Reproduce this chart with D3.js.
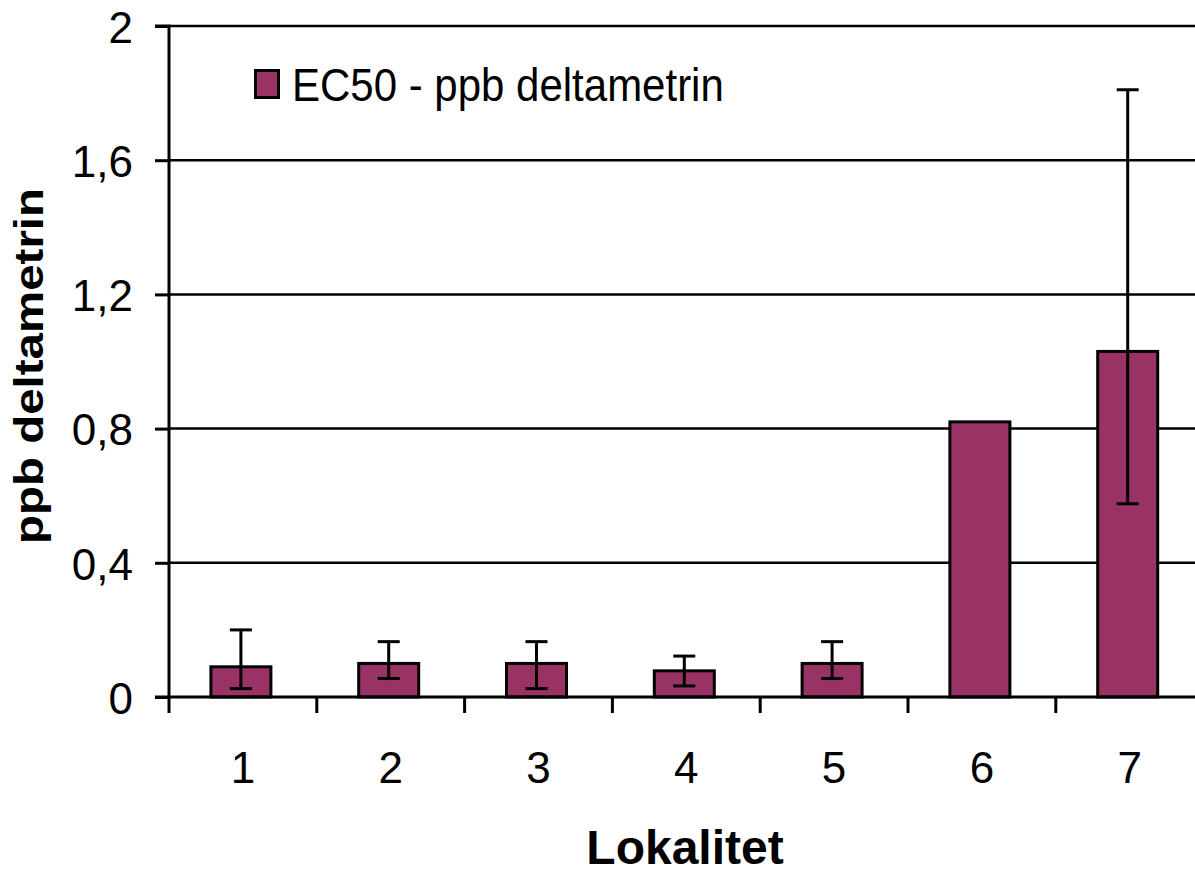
<!DOCTYPE html>
<html><head><meta charset="utf-8">
<script src="https://cdn.jsdelivr.net/npm/d3@7"></script>
<style>body{margin:0;background:#fff}svg{display:block}text{font-family:"Liberation Sans",Arial,sans-serif;fill:#000}</style>
</head><body><svg id="c" width="1195" height="875"></svg>
<script>
const categories = ["1","2","3","4","5","6","7"];
const ec50 = [0.09, 0.10, 0.10, 0.078, 0.10, 0.82, 1.03];
const errUpper = [0.20, 0.165, 0.165, 0.122, 0.165, null, 1.81];
const errLower = [0.025, 0.055, 0.025, 0.033, 0.055, null, 0.576];
const yTicks = [0, 0.4, 0.8, 1.2, 1.6, 2];
const yTickLabels = ["0", "0,4", "0,8", "1,2", "1,6", "2"];
const seriesName = "EC50 - ppb deltametrin";
const xTitle = "Lokalitet";
const yTitle = "ppb deltametrin";

const svg = d3.select("#c");
const plotLeft = 169, catW = 147.8, plotTop = 26, plotBottom = 697;
const x = d3.scaleBand().domain(categories).range([plotLeft, plotLeft + catW * categories.length]).padding(0);
const y = d3.scaleLinear().domain([0, 2]).range([plotBottom, plotTop]);
const barW = 60;
const color = "#993366";
const FONT = '"Liberation Sans",Arial,sans-serif';

// gridlines
svg.append("g").selectAll("line").data(yTicks.filter(d => d > 0)).join("line")
  .attr("x1", plotLeft).attr("x2", 1195).attr("y1", d => y(d)).attr("y2", d => y(d))
  .attr("stroke", "#000").attr("stroke-width", 2.5);

// bars
svg.append("g").selectAll("rect").data(categories).join("rect")
  .attr("x", (d, i) => x(d) + x.bandwidth() / 2 - barW / 2 - 2)
  .attr("y", (d, i) => y(ec50[i]))
  .attr("width", barW)
  .attr("height", (d, i) => y(0) - y(ec50[i]))
  .attr("fill", color).attr("stroke", "#000").attr("stroke-width", 3);

// error bars
const eb = svg.append("g").attr("stroke", "#000").attr("stroke-width", 3);
categories.forEach((c, i) => {
  if (errUpper[i] == null) return;
  const cx = x(c) + x.bandwidth() / 2 - 2;
  eb.append("line").attr("x1", cx).attr("x2", cx).attr("y1", y(errUpper[i])).attr("y2", y(errLower[i]));
  [errUpper[i], errLower[i]].forEach(v => {
    eb.append("line").attr("x1", cx - 11).attr("x2", cx + 11).attr("y1", y(v)).attr("y2", y(v));
  });
});

// y axis
const yAxis = d3.axisLeft(y).tickValues(yTicks).tickSize(14).tickPadding(22)
  .tickFormat((d, i) => yTickLabels[i]);
const gy = svg.append("g").attr("transform", `translate(${plotLeft},0)`).call(yAxis);
gy.select(".domain").attr("stroke", "#000").attr("stroke-width", 3).attr("d", `M-14,${plotTop}H0V${plotBottom}`);
gy.selectAll(".tick line").attr("stroke", "#000").attr("stroke-width", 3);
gy.selectAll(".tick text").attr("font-size", 44).attr("font-family", FONT).attr("fill", "#000").attr("dy", "0.37em");

// x axis
const xAxis = d3.axisBottom(x).tickSize(0).tickPadding(55);
const gx = svg.append("g").attr("transform", `translate(0,${plotBottom})`).call(xAxis);
gx.select(".domain").attr("stroke", "#000").attr("stroke-width", 3).attr("d", `M${plotLeft - 14},0H1195`);
gx.selectAll(".tick text").attr("font-size", 44).attr("font-family", FONT).attr("fill", "#000");
// category boundary ticks
const bounds = categories.map(c => x(c));
gx.append("g").selectAll("line").data(bounds).join("line")
  .attr("x1", d => d).attr("x2", d => d).attr("y1", 0).attr("y2", 16)
  .attr("stroke", "#000").attr("stroke-width", 3);

// legend
svg.append("rect").attr("x", 255.5).attr("y", 70.5).attr("width", 23).attr("height", 27)
  .attr("fill", color).attr("stroke", "#000").attr("stroke-width", 3);
svg.append("g").attr("transform", "translate(292,101) scale(1,1.08)")
  .append("text").attr("x", 0).attr("y", 0).attr("font-size", 42).text(seriesName);

// titles
svg.append("text").attr("x", 685).attr("y", 864).attr("text-anchor", "middle")
  .attr("font-size", 48).attr("font-weight", "bold").text(xTitle);
svg.append("g").attr("transform", "translate(43,366) rotate(-90) scale(1,0.87)")
  .append("text").attr("text-anchor", "middle")
  .attr("font-size", 47.5).attr("font-weight", "bold").text(yTitle);
</script></body></html>
